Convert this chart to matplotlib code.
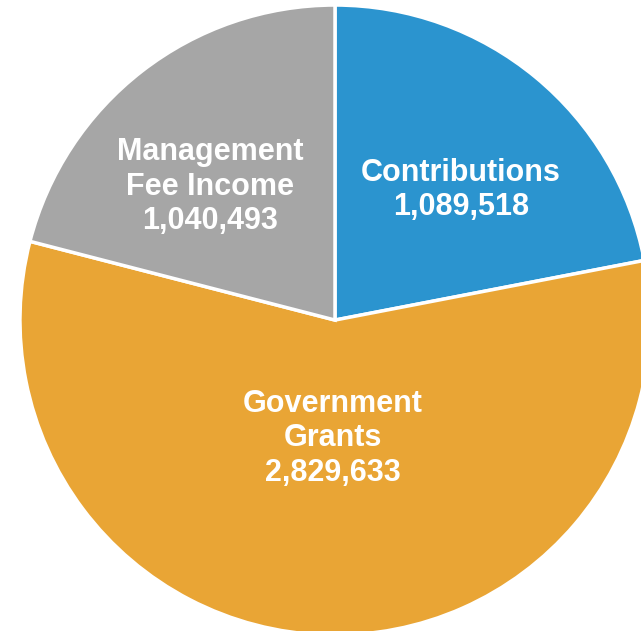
import numpy as np
import matplotlib.pyplot as plt

# Revenue sources
categories = ['Contributions', 'Government\nGrants', 'Management\nFee Income']
values = [1089518, 2829633, 1040493]
colors = ['#2B94CF', '#E9A535', '#A6A6A6']

# radial distance of each label (fraction of radius) and small angular nudge
label_dist = [0.575, 0.375, 0.58]
label_nudge = [-4.5, 0.9, 5.3]

fig = plt.figure(figsize=(6.41, 6.31), dpi=100)
ax = fig.add_axes([0, 0, 1, 1])

wedges, _ = ax.pie(values, colors=colors, startangle=90, counterclock=False,
                   radius=1.0, wedgeprops=dict(edgecolor='white', linewidth=2.5))

for w, name, v, d, nud in zip(wedges, categories, values, label_dist, label_nudge):
    mid = np.deg2rad((w.theta1 + w.theta2) / 2 + nud)
    ax.text(d * np.cos(mid), d * np.sin(mid), f"{name}\n{v:,}",
            ha='center', va='center', color='white', fontsize=22,
            fontweight='bold', family='Liberation Sans', linespacing=1.2)

ax.set_xlim(-1.063, 0.971)
ax.set_ylim(-0.987, 1.016)
ax.set_aspect('equal')
ax.axis('off')

fig.savefig('out.png', dpi=100)
